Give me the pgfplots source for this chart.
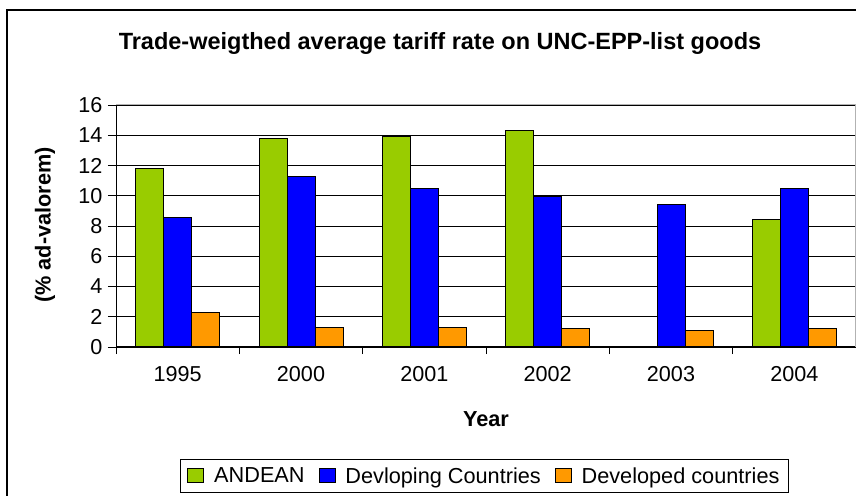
\documentclass[border=0pt]{standalone}
\usepackage{pgfplots}
\pgfplotsset{compat=1.18}
\usepackage{fontspec}
\setmainfont{Liberation Sans}
\definecolor{andean}{HTML}{99CC00}
\definecolor{devl}{HTML}{0000FF}
\definecolor{devd}{HTML}{FF9900}
\begin{document}
\begin{tikzpicture}[x=1pt,y=1pt]
\useasboundingbox (0,0) rectangle (856,495);
\clip (0,0) rectangle (856,495);
\draw[black, line width=1.2pt] (7,-5) -- (7,485) -- (870,485);
\node[anchor=base, inner sep=0pt, font=\bfseries\fontsize{23.5}{28}\selectfont] at (440,445) {Trade-weigthed average tariff rate on UNC-EPP-list goods};
\node[anchor=base, inner sep=0pt, rotate=90, font=\bfseries\fontsize{21.7}{26}\selectfont] at (50.5,270) {(\% ad-valorem)};
\node[anchor=base, inner sep=0pt, font=\bfseries\fontsize{21.7}{26}\selectfont] at (486,68) {Year};
\begin{axis}[
  at={(116pt,148pt)}, anchor=south west,
  scale only axis, width=740pt, height=242pt,
  ymin=0, ymax=16, ytick={0,2,...,16},
  xmin=-0.5, xmax=5.5,
  xtick={0,...,5}, xticklabels={1995,2000,2001,2002,2003,2004},
  minor xtick={-0.5,0.5,...,5.5},
  axis x line*=bottom, axis y line*=left,
  axis line style={black, line width=1pt, -},
  tick align=outside,
  major tick length=8pt, minor tick length=7pt,
  major x tick style={draw=none},
  minor x tick style={black, line width=0.8pt},
  major y tick style={black, line width=0.8pt},
  ymajorgrids, major grid style={black, line width=0.9pt},
  /pgf/number format/assume math mode=true,
  ticklabel style={font=\fontsize{21.6}{26}\selectfont},
  yticklabel style={xshift=-2pt},
  xticklabel style={yshift=-8pt},
  ybar=0pt, bar width=28pt,
  every axis plot/.append style={draw=black, line width=1pt},
  every axis plot post/.append style={
    legend image code/.code={\draw[#1, draw=black, line width=0.8pt] (0pt,-6.5pt) rectangle (16pt,8pt);}},
  legend columns=-1,
  legend style={at={(0.0865,-0.463)}, anchor=north west, draw=black, line width=0.8pt, fill=white,
    font=\fontsize{21.7}{26}\selectfont, inner xsep=7pt, inner ysep=6pt,
    /tikz/every odd column/.append style={column sep=8pt},
    /tikz/every even column/.append style={column sep=12pt}},
]
\addplot[fill=andean] coordinates {(0,11.8) (1,13.8) (2,13.9) (3,14.3) (5,8.45)};
\addplot[fill=devl] coordinates {(0,8.55) (1,11.3) (2,10.45) (3,9.95) (4,9.45) (5,10.45)};
\addplot[fill=devd] coordinates {(0,2.3) (1,1.28) (2,1.28) (3,1.2) (4,1.1) (5,1.2)};
\legend{ANDEAN, Devloping Countries, Developed countries}
\end{axis}
\draw[gray!60, line width=1pt] (116,390) -- (855.5,390) -- (855.5,148);
\end{tikzpicture}
\end{document}
